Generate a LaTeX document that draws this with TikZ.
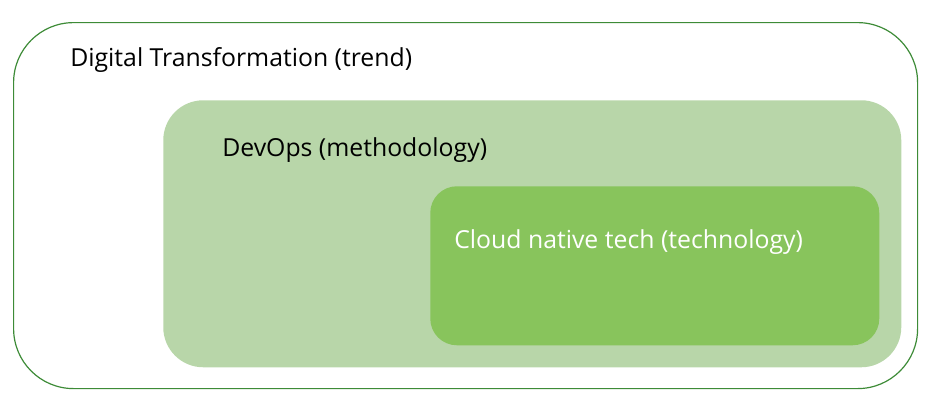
\documentclass[tikz,border=0pt]{standalone}
\usepackage{fontspec}
\setmainfont{Open Sans}
\usetikzlibrary{positioning}
\definecolor{edgegreen}{HTML}{3D8B37}
\definecolor{lightgreen}{HTML}{B8D6A9}
\definecolor{midgreen}{HTML}{88C45C}
\tikzset{
    box/.style = {inner sep=0pt, anchor=north west},
    label/.style = {inner sep=0pt, anchor=west, font=\fontsize{18.6}{20}\selectfont},
}
\begin{document}
\begin{tikzpicture}[x=0.75pt,y=-0.75pt]
        \useasboundingbox (0,0) rectangle (945,404);
        \node (trend) [box, draw=edgegreen, line width=0.9pt, rounded corners=45, minimum width=904*0.75pt, minimum height=366*0.75pt] at (13,22) {};
        \node (method) [box, fill=lightgreen, rounded corners=30, minimum width=738*0.75pt, minimum height=267*0.75pt] at (163,100) {};
        \node (tech) [box, fill=midgreen, rounded corners=20, minimum width=449*0.75pt, minimum height=159*0.75pt] at (430,186) {};
        \node (t1) [label] at (70,60) {Digital Transformation (trend)};
        \node (t2) [label] at (222,150) {DevOps (methodology)};
        \node (t3) [label, white] at (454,242) {Cloud native tech (technology)};
\end{tikzpicture}
\end{document}
